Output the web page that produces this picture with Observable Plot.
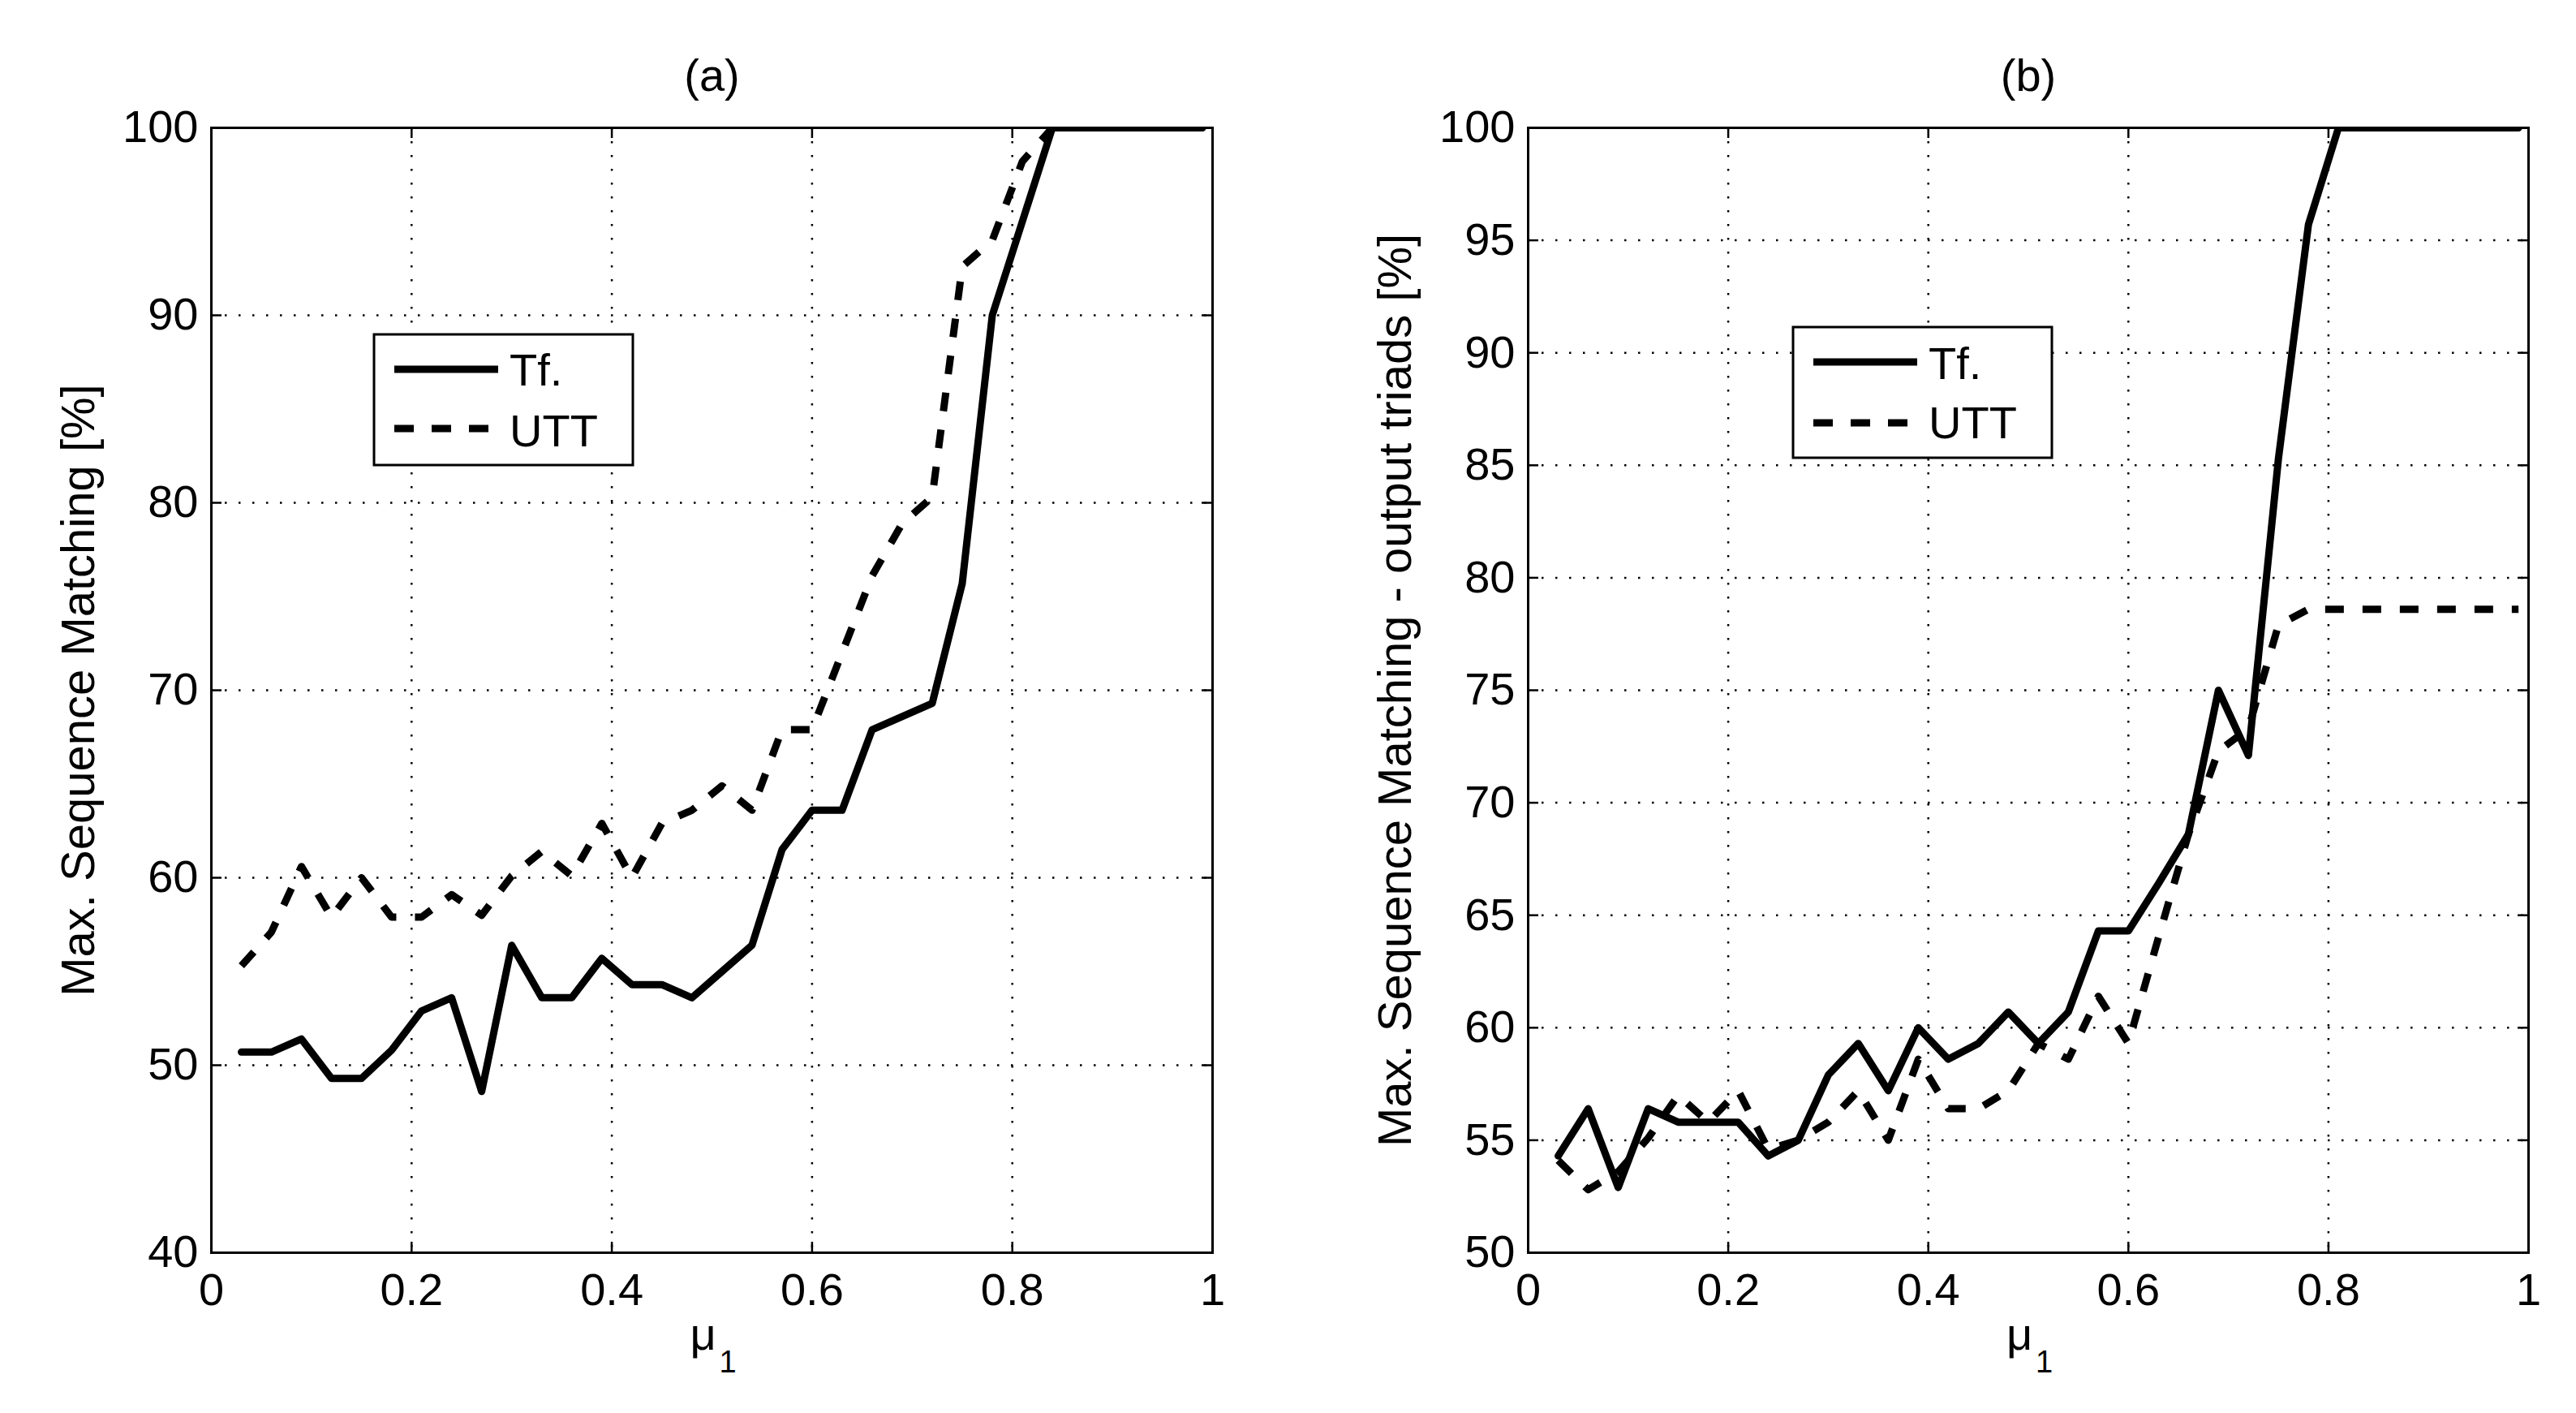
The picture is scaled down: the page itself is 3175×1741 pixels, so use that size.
<!DOCTYPE html>
<html><head><meta charset="utf-8">
<script src="https://cdn.jsdelivr.net/npm/d3@7"></script>
<script src="https://cdn.jsdelivr.net/npm/@observablehq/plot@0.6"></script>
<style>
html,body{margin:0;padding:0;background:#fff;}
#wrap{position:relative;width:3175px;height:1741px;overflow:hidden;background:#fff;}
#wrap svg{position:absolute;top:0;}
</style></head><body><div id="wrap"></div>
<script>
// ---- data ----
const mu = [0.03,0.06,0.09,0.12,0.15,0.18,0.21,0.24,0.27,0.30,0.33,0.36,0.39,0.42,0.45,0.48,0.51,0.54,0.57,0.60,0.63,0.66,0.69,0.72,0.75,0.78,0.81,0.84,0.87,0.90,0.93,0.96,0.99];
const seriesNames = ["Tf.", "UTT"];
const tfA  = [50.7,50.7,51.4,49.3,49.3,50.8,52.9,53.6,48.6,56.4,53.6,53.6,55.7,54.3,54.3,53.6,55.0,56.4,61.5,63.6,63.6,67.9,68.6,69.3,75.7,90.0,95.0,100,100,100,100,100,100];
const uttA = [55.3,57.1,60.6,57.9,60.0,57.9,57.9,59.1,58.0,60.1,61.4,60.1,62.9,60.0,62.9,63.6,64.9,63.6,67.9,67.9,72.0,76.1,78.9,80.3,92.6,94.0,98.2,100,100,100,100,100,100];
const tfB  = [54.3,56.4,52.9,56.4,55.8,55.8,55.8,54.3,55.0,57.9,59.3,57.2,60.0,58.6,59.3,60.7,59.3,60.7,64.3,64.3,66.4,68.6,75.0,72.1,85.3,95.7,100,100,100,100,100,100,100];
const uttB = [54.1,52.8,53.6,55.1,57.0,55.8,57.2,54.6,55.0,55.8,57.2,55.0,58.6,56.4,56.4,57.2,59.3,58.6,61.4,59.3,64.0,68.6,72.3,73.3,77.9,78.6,78.6,78.6,78.6,78.6,78.6,78.6,78.6];
const xTicks = [0, 0.2, 0.4, 0.6, 0.8, 1];
const xTickLabels = ["0", "0.2", "0.4", "0.6", "0.8", "1"];
const yTicksA = [40, 50, 60, 70, 80, 90, 100];
const yTicksB = [50, 55, 60, 65, 70, 75, 80, 85, 90, 95, 100];
const titles = ["(a)", "(b)"];
const yLabels = ["Max. Sequence Matching [%]", "Max. Sequence Matching - output triads [%]"];
const xLabelMain = "\u03bc";
const xLabelSub = "1";

// ---- drawing ----
const FONT = "'Liberation Sans', Arial, Helvetica, sans-serif";
const H = 1741, MT = 157, MB = 198;
const FS = 56;
const wrap = document.getElementById("wrap");

function panel(cfg) {
  const frameH = H - MT - MB;
  const frameW = cfg.width - cfg.marginLeft - cfg.marginRight;
  const tickLen = 13;
  const rows = (vals) => mu.map((m, i) => ({mu: m, v: vals[i]}));
  const gridStyle = {stroke: "#000", strokeOpacity: 1, strokeWidth: 2.5, strokeDasharray: "2.5,14.5"};
  const tickStyle = {stroke: "#000", strokeWidth: 2.5};
  const svg = Plot.plot({
    width: cfg.width, height: H,
    marginLeft: cfg.marginLeft, marginRight: cfg.marginRight, marginTop: MT, marginBottom: MB,
    style: {fontFamily: FONT, fontSize: FS + "px", color: "#000", background: "#fff", overflow: "visible"},
    x: {domain: [0, 1]},
    y: {domain: cfg.yDomain},
    marks: [
      Plot.gridX(xTicks, {x: d => d, ...gridStyle}),
      Plot.gridY(cfg.yTicks, {y: d => d, ...gridStyle}),
      Plot.line(rows(cfg.utt), {x: "mu", y: "v", stroke: "#000", strokeWidth: 9, strokeDasharray: "23,23", strokeLinecap: "butt", strokeLinejoin: "round", clip: true}),
      Plot.line(rows(cfg.tf), {x: "mu", y: "v", stroke: "#000", strokeWidth: 9, strokeLinejoin: "round", clip: true}),
      Plot.frame({stroke: "#000", strokeWidth: 3}),
      Plot.ruleX(xTicks, {x: d => d, insetTop: frameH - tickLen, ...tickStyle}),
      Plot.ruleX(xTicks, {x: d => d, insetBottom: frameH - tickLen, ...tickStyle}),
      Plot.ruleY(cfg.yTicks, {y: d => d, insetRight: frameW - tickLen, ...tickStyle}),
      Plot.ruleY(cfg.yTicks, {y: d => d, insetLeft: frameW - tickLen, ...tickStyle}),
      Plot.axisX(xTicks, {tickSize: 0, tickPadding: 25, tickFormat: (d, i) => xTickLabels[i], label: null, fontSize: FS, fill: "#000"}),
      Plot.axisY(cfg.yTicks, {tickSize: 0, tickPadding: 16, tickFormat: d => String(d), label: null, fontSize: FS, fill: "#000"}),
      Plot.text([cfg.title], {frameAnchor: "top", lineAnchor: "bottom", dy: -46, fontSize: FS, fill: "#000"}),
      Plot.text([cfg.yLabel], {frameAnchor: "left", textAnchor: "middle", lineAnchor: "middle", rotate: -90, dx: -163, fontSize: 58, fill: "#000"}),
      Plot.text([xLabelMain], {frameAnchor: "bottom", lineAnchor: "bottom", dy: 119, dx: -11, fontSize: FS, fill: "#000"}),
      Plot.text([xLabelSub], {frameAnchor: "bottom", lineAnchor: "bottom", textAnchor: "start", dy: 147, dx: 9, fontSize: 38, fill: "#000"})
    ]
  });
  svg.style.left = cfg.left + "px";
  // legend box
  const L = cfg.legend;
  const g = d3.select(svg).append("g").attr("font-family", FONT).attr("font-size", FS).attr("text-anchor", "start");
  g.append("rect").attr("x", L.x).attr("y", L.y).attr("width", L.w).attr("height", L.h)
    .attr("fill", "#fff").attr("stroke", "#000").attr("stroke-width", 3);
  const dashes = [null, "24,22"];
  seriesNames.forEach((name, i) => {
    const ly = L.rowY[i];
    g.append("line").attr("x1", L.lineX0).attr("x2", L.lineX1).attr("y1", ly).attr("y2", ly)
      .attr("stroke", "#000").attr("stroke-width", 9).attr("stroke-dasharray", dashes[i]).attr("stroke-linecap", "butt");
    g.append("text").attr("x", L.textX).attr("y", L.baseY[i]).attr("fill", "#000").attr("text-anchor", "start").text(name);
  });
  wrap.appendChild(svg);
}

panel({
  left: 0, width: 1587, marginLeft: 260, marginRight: 93,
  yDomain: [40, 100], yTicks: yTicksA, tf: tfA, utt: uttA,
  title: titles[0], yLabel: yLabels[0],
  legend: {x: 461, y: 412, w: 319, h: 161, lineX0: 486, lineX1: 614, rowY: [455, 528], textX: 628, baseY: [475, 550]}
});
panel({
  left: 1587, width: 1588, marginLeft: 296, marginRight: 59,
  yDomain: [50, 100], yTicks: yTicksB, tf: tfB, utt: uttB,
  title: titles[1], yLabel: yLabels[1],
  legend: {x: 623, y: 403, w: 319, h: 161, lineX0: 648, lineX1: 776, rowY: [446, 521], textX: 790, baseY: [467, 540]}
});
</script></body></html>
